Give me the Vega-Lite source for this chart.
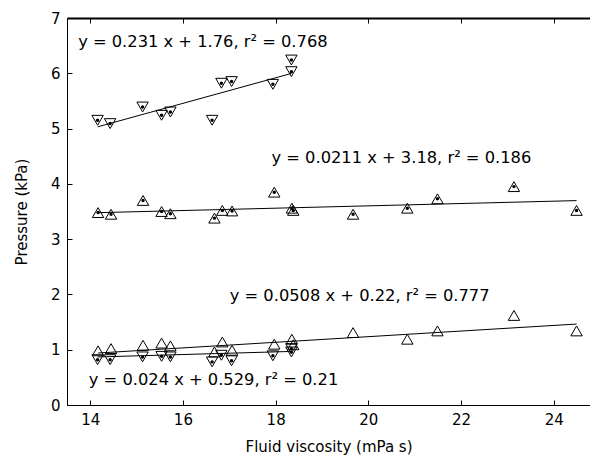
{
  "$schema": "https://vega.github.io/schema/vega-lite/v6.json",
  "width": 523,
  "height": 387,
  "autosize": "none",
  "padding": {"left": 67, "top": 18, "right": 0, "bottom": 61},
  "background": "white",
  "config": {
    "view": {"stroke": null},
    "axis": {
      "grid": false,
      "domainColor": "black",
      "tickColor": "black",
      "labelColor": "black",
      "titleColor": "black",
      "labelFont": "DejaVu Sans",
      "titleFont": "DejaVu Sans",
      "labelFontSize": 15,
      "titleFontSize": 15,
      "titleFontWeight": "normal",
      "tickSize": -5,
      "domainWidth": 1,
      "tickWidth": 1
    }
  },
  "datasets": {
    "pts": [
      {"s": "top", "x": 14.16, "y": 5.15},
      {"s": "top", "x": 14.43, "y": 5.09},
      {"s": "top", "x": 15.13, "y": 5.39},
      {"s": "top", "x": 15.54, "y": 5.24},
      {"s": "top", "x": 15.73, "y": 5.30},
      {"s": "top", "x": 16.63, "y": 5.15},
      {"s": "top", "x": 16.83, "y": 5.82},
      {"s": "top", "x": 17.05, "y": 5.85},
      {"s": "top", "x": 17.94, "y": 5.80},
      {"s": "top", "x": 18.34, "y": 6.03},
      {"s": "top", "x": 18.34, "y": 6.24},
      {"s": "mid", "x": 14.17, "y": 3.48},
      {"s": "mid", "x": 14.45, "y": 3.45},
      {"s": "mid", "x": 15.14, "y": 3.70},
      {"s": "mid", "x": 15.54, "y": 3.50},
      {"s": "mid", "x": 15.73, "y": 3.46},
      {"s": "mid", "x": 16.68, "y": 3.38},
      {"s": "mid", "x": 16.85, "y": 3.52},
      {"s": "mid", "x": 17.06, "y": 3.51},
      {"s": "mid", "x": 17.97, "y": 3.85},
      {"s": "mid", "x": 18.35, "y": 3.56},
      {"s": "mid", "x": 18.38, "y": 3.52},
      {"s": "mid", "x": 19.67, "y": 3.45},
      {"s": "mid", "x": 20.84, "y": 3.56},
      {"s": "mid", "x": 21.49, "y": 3.73},
      {"s": "mid", "x": 23.14, "y": 3.95},
      {"s": "mid", "x": 24.49, "y": 3.52},
      {"s": "bup", "x": 14.17, "y": 0.98},
      {"s": "bup", "x": 14.45, "y": 1.02},
      {"s": "bup", "x": 15.14, "y": 1.08},
      {"s": "bup", "x": 15.54, "y": 1.12},
      {"s": "bup", "x": 15.73, "y": 1.07},
      {"s": "bup", "x": 16.68, "y": 0.96},
      {"s": "bup", "x": 16.85, "y": 1.14},
      {"s": "bup", "x": 17.06, "y": 0.99},
      {"s": "bup", "x": 17.97, "y": 1.10},
      {"s": "bup", "x": 18.35, "y": 1.19},
      {"s": "bup", "x": 18.38, "y": 1.09},
      {"s": "bup", "x": 19.67, "y": 1.31},
      {"s": "bup", "x": 20.84, "y": 1.19},
      {"s": "bup", "x": 21.49, "y": 1.34},
      {"s": "bup", "x": 23.14, "y": 1.62},
      {"s": "bup", "x": 24.49, "y": 1.34},
      {"s": "bdn", "x": 14.16, "y": 0.82},
      {"s": "bdn", "x": 14.43, "y": 0.82},
      {"s": "bdn", "x": 15.13, "y": 0.87},
      {"s": "bdn", "x": 15.54, "y": 0.88},
      {"s": "bdn", "x": 15.73, "y": 0.87},
      {"s": "bdn", "x": 16.63, "y": 0.78},
      {"s": "bdn", "x": 16.83, "y": 0.90},
      {"s": "bdn", "x": 17.05, "y": 0.80},
      {"s": "bdn", "x": 17.94, "y": 0.89},
      {"s": "bdn", "x": 18.34, "y": 1.02},
      {"s": "bdn", "x": 18.34, "y": 0.96}
    ],
    "fits": [
      {"s": "top", "x": 14.16, "y": 5.031},
      {"s": "top", "x": 18.34, "y": 5.997},
      {"s": "mid", "x": 14.17, "y": 3.479},
      {"s": "mid", "x": 24.49, "y": 3.697},
      {"s": "bup", "x": 14.17, "y": 0.940},
      {"s": "bup", "x": 24.49, "y": 1.464},
      {"s": "bdn", "x": 14.16, "y": 0.869},
      {"s": "bdn", "x": 18.34, "y": 0.969}
    ],
    "labels": [
      {"t": "y = 0.231 x + 1.76, r² = 0.768", "x": 13.74, "y": 6.56},
      {"t": "y = 0.0211 x + 3.18, r² = 0.186", "x": 17.91, "y": 4.47},
      {"t": "y = 0.0508 x + 0.22, r² = 0.777", "x": 17.01, "y": 1.97},
      {"t": "y = 0.024 x + 0.529, r² = 0.21", "x": 13.97, "y": 0.45}
    ]
  },
  "resolve": {"axis": {"x": "independent", "y": "independent"}},
  "layer": [
    {
      "data": {"name": "fits"},
      "mark": {"type": "line", "color": "black", "strokeWidth": 1},
      "encoding": {
        "x": {"field": "x", "type": "quantitative", "scale": {"domain": [13.5, 24.78], "nice": false, "zero": false},
              "axis": {"orient": "bottom", "values": [14, 16, 18, 20, 22, 24], "labelPadding": 12, "title": "Fluid viscosity (mPa s)", "titlePadding": 12}},
        "y": {"field": "y", "type": "quantitative", "scale": {"domain": [0, 7], "nice": false},
              "axis": {"orient": "left", "values": [0, 1, 2, 3, 4, 5, 6, 7], "labelPadding": 12, "title": "Pressure (kPa)", "titlePadding": 21}},
        "detail": {"field": "s"}
      }
    },
    {
      "data": {"name": "fits"},
      "mark": {"type": "point", "opacity": 0},
      "encoding": {
        "x": {"field": "x", "type": "quantitative", "axis": {"orient": "top", "values": [14, 16, 18, 20, 22, 24], "title": null, "labels": false, "domainColor": "#000000", "domainWidth": 2, "tickColor": "#000000", "tickWidth": 1}},
        "y": {"field": "y", "type": "quantitative", "axis": null}
      }
    },
    {
      "data": {"name": "pts"},
      "mark": {"type": "point", "filled": false, "stroke": "black", "strokeWidth": 1, "size": 130, "opacity": 1},
      "encoding": {
        "x": {"field": "x", "type": "quantitative", "axis": null},
        "y": {"field": "y", "type": "quantitative", "axis": null},
        "shape": {"field": "s", "type": "nominal", "scale": {"domain": ["top", "mid", "bup", "bdn"], "range": ["triangle-down", "triangle-up", "triangle-up", "triangle-down"]}, "legend": null}
      }
    },
    {
      "data": {"name": "pts"},
      "transform": [{"filter": "datum.s !== 'bup'"}],
      "mark": {"type": "circle", "color": "black", "size": 12, "opacity": 1},
      "encoding": {
        "x": {"field": "x", "type": "quantitative", "axis": null},
        "y": {"field": "y", "type": "quantitative", "axis": null}
      }
    },
    {
      "data": {"name": "labels"},
      "mark": {"type": "text", "align": "left", "baseline": "middle", "font": "DejaVu Sans", "fontSize": 16.3, "color": "black"},
      "encoding": {
        "x": {"field": "x", "type": "quantitative", "axis": null},
        "y": {"field": "y", "type": "quantitative", "axis": null},
        "text": {"field": "t"}
      }
    }
  ]
}
